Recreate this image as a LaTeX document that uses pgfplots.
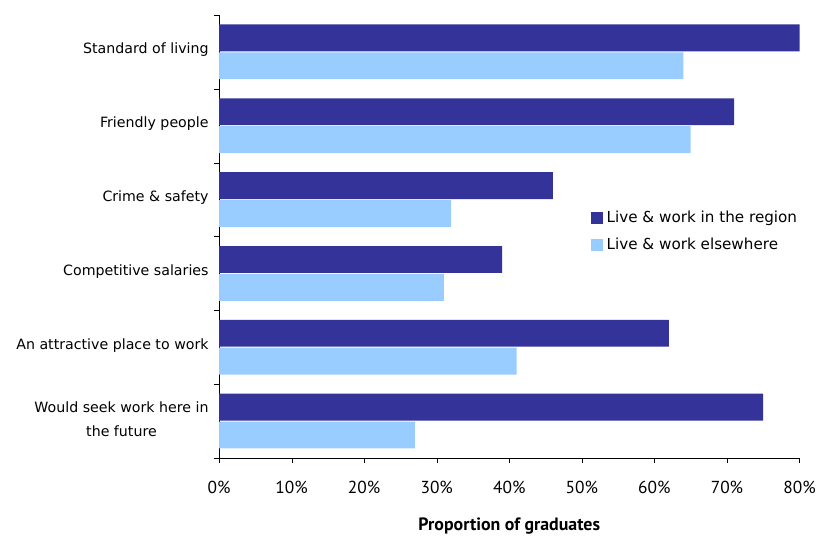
\documentclass[border=0pt]{standalone}
\usepackage{pgfplots}
\pgfplotsset{compat=1.18}
\usepackage{fontspec}
\setmainfont{DejaVu Sans}
\newfontfamily\tickfont{PT Sans}
\definecolor{darkbar}{HTML}{333399}
\definecolor{lightbar}{HTML}{99CCFF}
\begin{document}
\begin{tikzpicture}
\begin{axis}[
  width=583bp, height=445bp, scale only axis,
  xbar, bar width=27bp,
  xmin=0, xmax=80, ymin=-0.5, ymax=5.5,
  axis lines*=left,
  xtick={0,10,...,80},
  xticklabel={\tickfont\pgfmathprintnumber{\tick}\%},
  xticklabel style={font=\fontsize{17.5}{19}\selectfont, yshift=-20bp},
  /pgf/number format/assume math mode=true,
  xlabel={\tickfont\bfseries Proportion of graduates},
  xlabel style={font=\fontsize{18}{20}\selectfont, yshift=-12bp},
  ytick={0,1,2,3,4,5},
  yticklabels={{Would seek work here in\\the future},{An attractive place to work},{Competitive salaries},{Crime \& safety},{Friendly people},{Standard of living}},
  yticklabel style={font=\fontsize{14.3}{24}\selectfont, align=center, xshift=-7bp, yshift=2bp},
  major tick length=0pt,
  minor ytick={-0.5,0.5,...,5.5},
  minor xtick={},
  tick style={black},
  extra x ticks={0,10,...,80}, extra x tick labels={},
  extra x tick style={major tick length=5bp, tick align=outside},
  minor tick length=5bp,
  tick align=outside,
  axis line style={black},
  legend cell align=left,
  legend style={draw=none, fill=none, at={(0.64,0.562)}, anchor=north west, font=\fontsize{15.3}{18}\selectfont, row sep=10bp, inner sep=0pt, nodes={inner xsep=4bp}},
  legend image code/.code={\fill[#1] (0bp,-6bp) rectangle (12bp,6bp);},
]
\addplot[fill=darkbar, draw=none, bar shift=14bp] coordinates {(75,0) (62,1) (39,2) (46,3) (71,4) (80,5)};
\addplot[fill=lightbar, draw=none, bar shift=-14bp] coordinates {(27,0) (41,1) (31,2) (32,3) (65,4) (64,5)};
\legend{Live \& work in the region, Live \& work elsewhere}
\end{axis}
\path[use as bounding box] (-220bp,-74bp) rectangle (599bp,460bp);
\end{tikzpicture}
\end{document}
